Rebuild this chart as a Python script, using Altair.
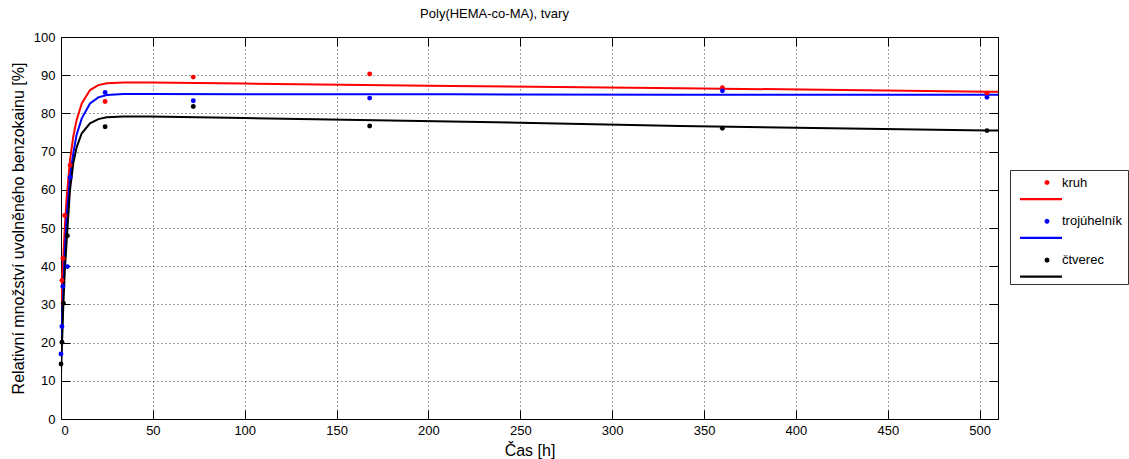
import altair as alt
import pandas as pd

# ---- measured data points (time [h], released amount [%]) ----
series_names = ["kruh", "trojúhelník", "čtverec"]
series_colors = ["#ff0000", "#0000ff", "#000000"]

t_kruh = [0.5, 1, 2, 5, 24, 72, 168, 360, 504]
v_kruh = [36.3, 42.0, 53.3, 66.4, 83.1, 89.5, 90.3, 86.7, 85.3]

t_troj = [0, 0.5, 1, 3.5, 5, 24, 72, 168, 360, 504]
v_troj = [17.0, 24.2, 34.7, 39.9, 63.3, 85.5, 83.3, 84.0, 85.9, 84.2]

t_ctv = [0, 0.5, 1.3, 3.5, 24, 72, 168, 360, 504]
v_ctv = [14.4, 20.1, 30.3, 48.0, 76.5, 81.8, 76.7, 76.1, 75.5]

# ---- fitted curves ----
t_fit = [0, 0.5, 1.3, 2.1, 3.1, 4.9, 6.7, 8.5, 11.3, 15.8, 20.3, 24.9, 34, 48.5,
         100, 212, 337, 504, 510]
f_kruh = [29.5, 36.0, 43.0, 50.4, 58.0, 67.8, 74.0, 78.3, 82.6, 86.1, 87.4, 87.9,
          88.1, 88.1, 87.8, 87.2, 86.6, 85.7, 85.7]
f_troj = [16.4, 24.2, 34.7, 44.0, 53.0, 63.5, 69.6, 74.4, 78.7, 82.6, 84.2, 84.8,
          85.1, 85.1, 85.0, 85.0, 84.9, 84.9, 84.9]
f_ctv = [12.0, 19.0, 30.3, 39.0, 46.9, 60.0, 67.0, 71.1, 74.8, 77.4, 78.5, 79.0,
         79.2, 79.2, 78.8, 77.9, 76.7, 75.5, 75.5]

x_ticks = list(range(0, 501, 50))
y_ticks = list(range(0, 101, 10))

pts = pd.concat([
    pd.DataFrame({"t": t_kruh, "v": v_kruh, "s": "kruh"}),
    pd.DataFrame({"t": t_troj, "v": v_troj, "s": "trojúhelník"}),
    pd.DataFrame({"t": t_ctv, "v": v_ctv, "s": "čtverec"}),
])
fit_tables = [
    pd.DataFrame({"t": t_fit, "v": f_kruh}),
    pd.DataFrame({"t": t_fit, "v": f_troj}),
    pd.DataFrame({"t": t_fit, "v": f_ctv}),
]

FONT = "Liberation Sans"
W, H = 937, 382
TICK = 9

# legend symbol: dot (at the label's height) with a line segment below it
u = 6.5          # half side of the nominal symbol box, px
def U(px):
    return round(px / u, 3)
dx, dy, r = 24.5, 0.0, 2.6
lx0, lx1, ly, lw = -2.5, 39.5, 16.6, 2.2
k = 0.7
sym = (
    f"M{U(dx - r)},{U(dy)} L{U(dx - r*k)},{U(dy - r*k)} L{U(dx)},{U(dy - r)} "
    f"L{U(dx + r*k)},{U(dy - r*k)} L{U(dx + r)},{U(dy)} L{U(dx + r*k)},{U(dy + r*k)} "
    f"L{U(dx)},{U(dy + r)} L{U(dx - r*k)},{U(dy + r*k)} Z "
    f"M{U(lx0)},{U(ly - lw/2)} L{U(lx1)},{U(ly - lw/2)} L{U(lx1)},{U(ly + lw/2)} "
    f"L{U(lx0)},{U(ly + lw/2)} Z"
)

xscale = alt.Scale(domain=[0, 510], nice=False)
yscale = alt.Scale(domain=[0, 100], nice=False)

main_x_axis = alt.Axis(values=x_ticks, title="Čas [h]", orient="bottom",
                       titleX=W / 2, titleY=31, titleBaseline="middle",
                       ticks=False, domain=False, grid=True, labelPadding=5)
main_y_axis = alt.Axis(values=y_ticks, orient="left",
                       title="Relativní množství uvolněného benzokainu [%]",
                       titleX=-43, titleY=H / 2, titleBaseline="middle",
                       ticks=False, domain=False, grid=True, labelPadding=6)

def tick_axis(vals, orient):
    return alt.Axis(values=vals, orient=orient, offset=-TICK, tickSize=TICK,
                    ticks=True, labels=False, grid=False, domain=False, title=None,
                    tickColor="black", tickWidth=1)

axes_sets = [
    (main_x_axis, main_y_axis),
    (tick_axis(x_ticks, "top"), tick_axis(y_ticks, "right")),
    (tick_axis(x_ticks, "bottom"), tick_axis(y_ticks, "left")),
]

line_layers = []
for tbl, col, (ax, ay) in zip(fit_tables, series_colors, axes_sets):
    line_layers.append(
        alt.Chart(tbl).mark_line(strokeWidth=2, clip=True, color=col).encode(
            x=alt.X("t:Q", scale=xscale, axis=ax),
            y=alt.Y("v:Q", scale=yscale, axis=ay),
        )
    )

points = alt.Chart(pts).mark_circle(size=24, opacity=1, clip=False).encode(
    x=alt.X("t:Q", scale=xscale, axis=None),
    y=alt.Y("v:Q", scale=yscale, axis=None),
    color=alt.Color("s:N", scale=alt.Scale(domain=series_names, range=series_colors),
                    sort=series_names,
                    legend=alt.Legend(orient="none", legendX=949, legendY=133,
                                      title=None, symbolType=sym, symbolSize=(2 * u) ** 2,
                                      symbolStrokeWidth=0, symbolOpacity=1,
                                      padding=6, rowPadding=13.8, labelOffset=33,
                                      labelFont=FONT, labelFontSize=13, labelColor="black",
                                      strokeColor="#333333", fillColor="white")),
)

chart = alt.layer(*line_layers, points).resolve_axis(
    x="independent", y="independent"
).properties(
    width=W, height=H,
    title=alt.TitleParams("Poly(HEMA-co-MA), tvary", font=FONT, fontSize=13,
                          fontWeight="normal", color="black", offset=10, dx=-35),
    autosize=alt.AutoSizeParams(type="none"),
    padding={"left": 61, "top": 37, "right": 131, "bottom": 40},
).configure(background="white").configure_view(
    stroke="black", strokeWidth=1
).configure_axis(
    labelFont=FONT, labelFontSize=13, labelColor="black",
    titleFont=FONT, titleFontSize=16, titleFontWeight="normal", titleColor="black",
    gridColor="black", gridDash=[1, 3], gridOpacity=0.75, gridWidth=1,
)

chart.save("out.html", embed_options={"renderer": "svg", "actions": False})
